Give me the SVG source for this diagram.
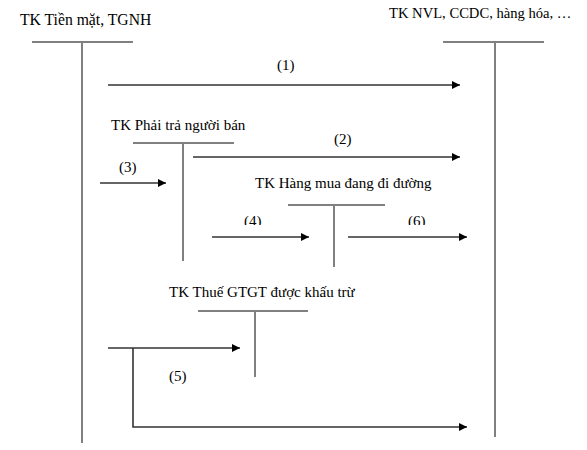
<svg xmlns="http://www.w3.org/2000/svg" width="587" height="450" viewBox="0 0 587 450">
<style>
.t{stroke:#808080;stroke-width:2;fill:none}
.c{stroke:#333;stroke-width:1.6;fill:none}
.a{marker-end:url(#ah)}
text{font-family:"Liberation Serif","Times New Roman",serif;fill:#000;font-size:15px}
</style>
<defs>
<marker id="ah" markerUnits="userSpaceOnUse" markerWidth="10" markerHeight="10" refX="8" refY="5" orient="auto">
<path d="M0,1 L8,5 L0,9 Z" fill="#000"/>
</marker>
<clipPath id="clip46"><rect x="0" y="200" width="587" height="25"/></clipPath>
</defs>
<rect width="587" height="450" fill="#fff"/>
<g id="tk-tien-mat">
<text x="20" y="25" style="font-size:15.7px">TK Tiền mặt, TGNH</text>
<path class="t" d="M32,42 H133 M82,42 V443"/>
</g>
<g id="tk-nvl">
<text x="389" y="18" style="font-size:14.6px">TK NVL, CCDC, hàng hóa, …</text>
<path class="t" d="M443,42 H544 M495,42 V437"/>
</g>
<g id="tk-phai-tra">
<text x="111" y="130">TK Phải trả người bán</text>
<path class="t" d="M133,143 H234 M183,143 V261"/>
</g>
<g id="tk-hang-mua">
<text x="255" y="188">TK Hàng mua đang đi đường</text>
<path class="t" d="M288,205 H385 M334,205 V267"/>
</g>
<g id="tk-thue">
<text x="169" y="297">TK Thuế GTGT được khấu trừ</text>
<path class="t" d="M198,311 H308 M255,311 V377"/>
</g>
<g id="connectors">
<path class="c a" d="M108,85 H460"/>
<text x="277" y="70">(1)</text>
<path class="c a" d="M193,157 H460"/>
<text x="334" y="144">(2)</text>
<path class="c a" d="M100,183 H166"/>
<text x="119" y="172">(3)</text>
<path class="c a" d="M212,237 H309"/>
<path class="c a" d="M348,237 H467"/>
<g clip-path="url(#clip46)">
<text x="244" y="226">(4)</text>
<text x="408" y="226">(6)</text>
</g>
<path class="c a" d="M108,348 H240"/>
<path class="c a" d="M133,348 V427 H467"/>
<text x="169" y="381">(5)</text>
</g>
</svg>
